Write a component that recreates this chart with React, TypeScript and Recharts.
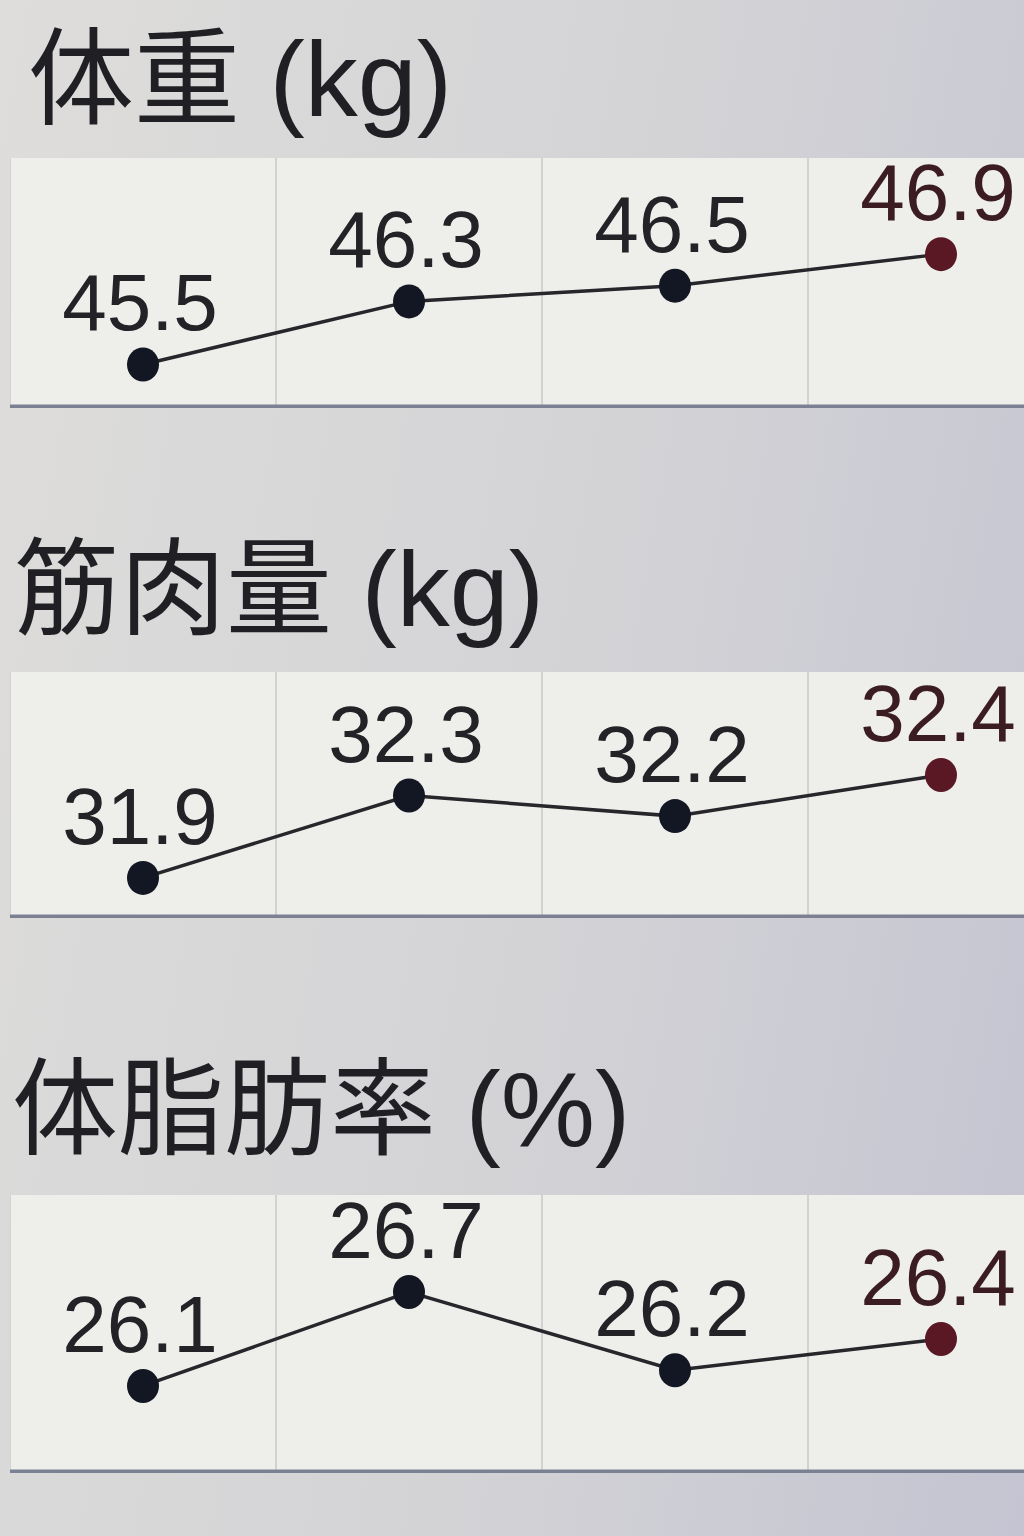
import React from 'react';
import { LineChart, Line, XAxis, YAxis, CartesianGrid, LabelList, ReferenceLine } from 'recharts';

// readings, oldest -> latest (latest is drawn in dark red)
const weightValues = [45.5, 46.3, 46.5, 46.9];
const muscleValues = [31.9, 32.3, 32.2, 32.4];
const fatValues = [26.1, 26.7, 26.2, 26.4];

const weightTitle = '体重 (kg)';
const muscleTitle = '筋肉量 (kg)';
const fatTitle = '体脂肪率 (%)';

// column borders; readings sit in the middle of each column
const columnTicks = [0, 1, 2, 3, 4];

const FONT = '"Liberation Sans", "Noto Sans CJK JP", sans-serif';
const DOT_COLOR = '#131723';
const LATEST_COLOR = '#5a1824';
const LABEL_COLOR = '#232327';
const LATEST_LABEL_COLOR = '#3a1c22';
const HEADROOM = 40;

interface PanelProps {
  values: number[];
  domain: [number, number];
  top: number;
  height: number;
}

function MetricPanel({ values, domain, top, height }: PanelProps) {
  const data = values.map((value, i) => ({ slot: i + 0.5, value }));
  const last = values.length - 1;

  const renderDot = (props: any) => {
    const { cx, cy, index } = props;
    return (
      <ellipse
        key={`dot-${index}`}
        cx={cx}
        cy={cy}
        rx={16}
        ry={17}
        fill={index === last ? LATEST_COLOR : DOT_COLOR}
      />
    );
  };

  const renderLabel = (props: any) => {
    const { x, y, value, index } = props;
    return (
      <text
        key={`label-${index}`}
        x={x - 3}
        y={y - 34}
        textAnchor="middle"
        fontSize={80}
        fontFamily={FONT}
        fill={index === last ? LATEST_LABEL_COLOR : LABEL_COLOR}
      >
        {value.toFixed(1)}
      </text>
    );
  };

  return (
    <div style={{ position: 'absolute', left: 10, top: top - HEADROOM }}>
      <LineChart
        width={1064}
        height={height + HEADROOM}
        data={data}
        margin={{ top: HEADROOM, right: 0, bottom: 0, left: 0 }}
      >
        <CartesianGrid horizontal={false} vertical={false} fill="#eeeeeb" fillOpacity={1} />
        <XAxis
          dataKey="slot"
          type="number"
          domain={[0, 4]}
          ticks={columnTicks}
          allowDataOverflow
          height={1}
          tick={false}
          tickLine={false}
          axisLine={{ stroke: '#7b8193', strokeWidth: 5 }}
        />
        <YAxis hide type="number" domain={domain} allowDataOverflow />
        {columnTicks.map((t) => (
          <ReferenceLine key={`col-${t}`} x={t} stroke="#d2d2d2" strokeWidth={2} ifOverflow="visible" />
        ))}
        <Line
          type="linear"
          dataKey="value"
          stroke="#26262b"
          strokeWidth={3.5}
          dot={renderDot}
          activeDot={false}
          isAnimationActive={false}
        >
          <LabelList dataKey="value" content={renderLabel} />
        </Line>
      </LineChart>
    </div>
  );
}

function Title({ text, top, left }: { text: string; top: number; left: number }) {
  return (
    <div
      style={{
        position: 'absolute',
        top,
        left,
        fontSize: 106,
        lineHeight: '106px',
        fontFamily: FONT,
        color: '#1f1f24',
        whiteSpace: 'nowrap',
      }}
    >
      {text}
    </div>
  );
}

export default function App() {
  return (
    <div
      style={{
        position: 'absolute',
        left: 0,
        top: 0,
        width: 1024,
        height: 1536,
        overflow: 'hidden',
        background: 'linear-gradient(100deg, #dedddb 0%, #d3d3d6 55%, #c4c4d2 100%)',
      }}
    >
      <Title text={weightTitle} top={26} left={28} />
      <MetricPanel values={weightValues} domain={[44.96, 48.12]} top={158} height={250} />

      <Title text={muscleTitle} top={536} left={14} />
      <MetricPanel values={muscleValues} domain={[31.71, 32.9]} top={672} height={246} />

      <Title text={fatTitle} top={1056} left={12} />
      <MetricPanel values={fatValues} domain={[25.55, 27.32]} top={1195} height={278} />
    </div>
  );
}
